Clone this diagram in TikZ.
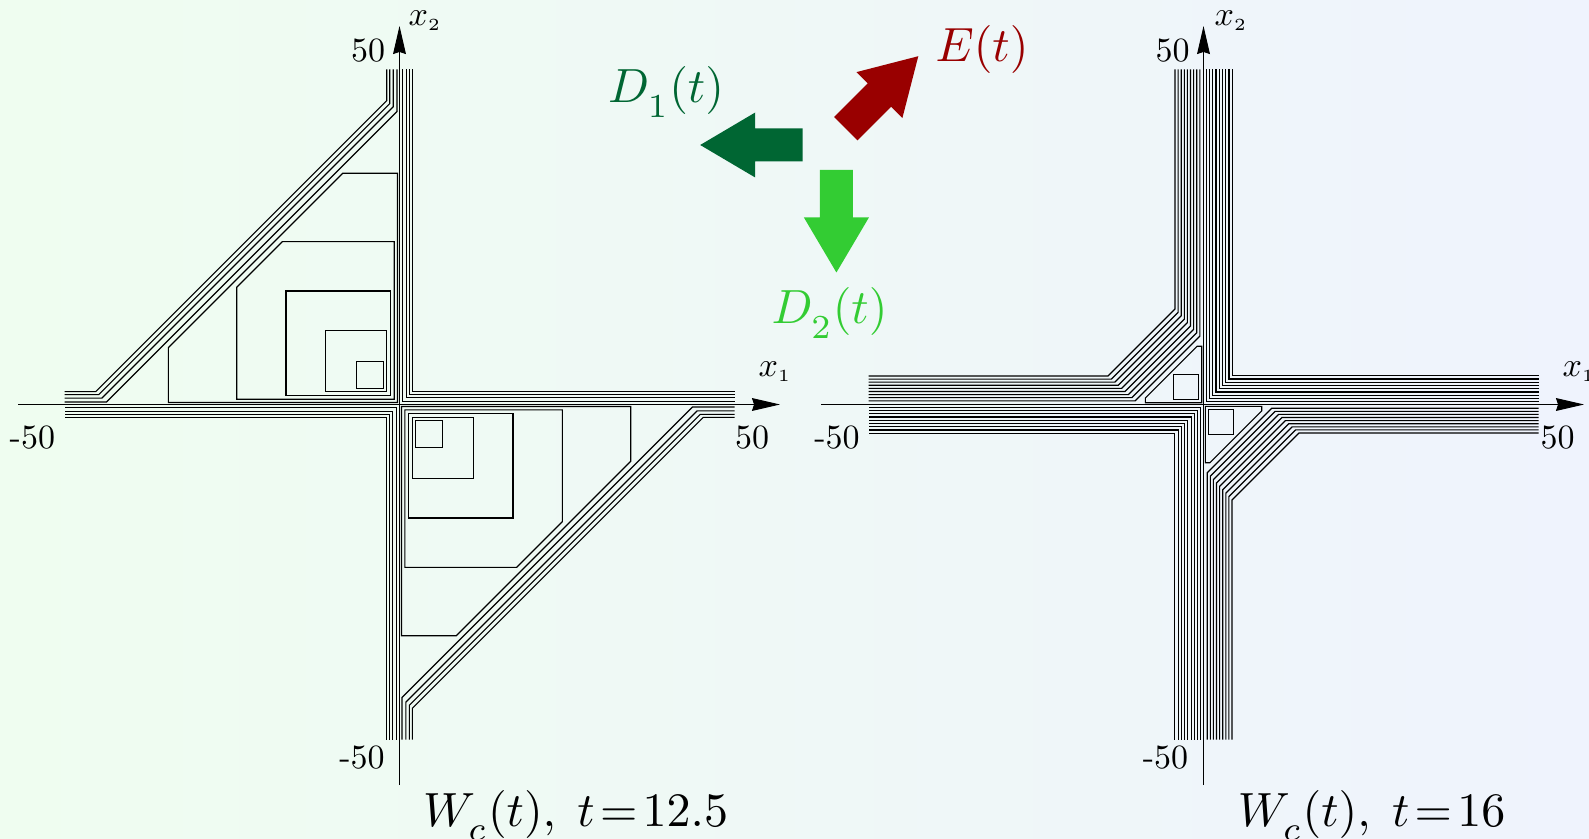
\documentclass[tikz,border=0pt]{standalone}
\usetikzlibrary{arrows.meta}
\definecolor{dOne}{RGB}{0,102,51}
\definecolor{dTwo}{RGB}{51,204,51}
\definecolor{eRed}{RGB}{153,0,0}
\definecolor{bgL}{RGB}{239,253,240}
\definecolor{bgR}{RGB}{239,243,253}
\newcommand\mylsub[1]{_{\lower1.6pt\hbox{$\scriptstyle #1$}}}
\begin{document}
\begin{tikzpicture}[x=0.5pt,y=-0.5pt,
  contour/.style={line width=0.55pt, black},
  axisline/.style={line width=0.5pt, -{Stealth[length=14pt,width=6.4pt,inset=1pt]}},
  ticklab/.style={scale=1.7, inner sep=0pt},
  axlab/.style={scale=1.7, inner sep=0pt},
  bigtxt/.style={scale=2.4, inner sep=0pt},
  bigarrow/.pic={\fill (0,-16.5) -- (47.5,-16.5) -- (47.5,-32.5) -- (102.5,0) -- (47.5,32.5) -- (47.5,16.5) -- (0,16.5) -- cycle;}
]
\useasboundingbox (0,0) rectangle (1589,839);
\shade[left color=bgL, right color=bgR] (0,0) rectangle (1589,839);

% ---------- left plot (t = 12.5) ----------
\begin{scope}[shift={(399.5,404.5)}, yscale=-1]
 \foreach \r in {0,180}{
  \begin{scope}[rotate=\r]
   \foreach \dd/\cc in {2.5/295.5,6.3/304,9.8/310.7,12.8/316.6}
     \draw[contour] (-335,\dd) -- ({\dd-\cc},\dd) -- (-\dd,{\cc-\dd}) -- (-\dd,335);
   \draw[contour] (-42.8,16.2) rectangle (-16.2,42.8);
   \draw[contour] (-74,12.8) rectangle (-12.8,74);
   \draw[contour] (-113.5,9.3) rectangle (-9.3,113.5);
   \foreach \aa/\bb/\cc in {5.3/162.8/280, 2/231.2/288}
     \draw[contour] (-\aa,\aa) -- (-\bb,\aa) -- (-\bb,{\cc-\bb}) -- ({\bb-\cc},\bb) -- (-\aa,\bb) -- cycle;
   \foreach \dd in {3.3,6.6,9.8,13}
     \draw[contour] (\dd,335) -- (\dd,\dd) -- (335,\dd);
  \end{scope}}
\end{scope}
\coordinate (L1a) at (18,404.5);
\coordinate (L1b) at (780,404.5);
\coordinate (L2a) at (399.5,785);
\coordinate (L2b) at (399.5,26);
\draw[axisline] (L1a) -- (L1b);
\draw[axisline] (L2a) -- (L2b);
\node[axlab] (Lx2) at (425,21) {$x_{\scriptscriptstyle 2}$};
\node[axlab] (Lx1) at (775,372) {$x_{\scriptscriptstyle 1}$};
\node[ticklab] (Lt50y) at (368,51) {50};
\node[ticklab] (Ltm50y) at (362,758) {-50};
\node[ticklab] (Ltm50x) at (32.4,438) {-50};
\node[ticklab] (Lt50x) at (752,438) {50};

% ---------- right plot (t = 16) ----------
\begin{scope}[shift={(1203.5,404.5)}, yscale=-1]
 \foreach \r in {0,180}{
  \begin{scope}[rotate=\r]
   \foreach \k in {0,...,8}{
     \pgfmathsetmacro{\dd}{3.7+3.1*\k}
     \pgfmathsetmacro{\cc}{72+6.5*\k}
     \draw[contour] (-335,\dd) -- ({\dd-\cc},\dd) -- (-\dd,{\cc-\dd}) -- (-\dd,335);
     \pgfmathsetmacro{\ee}{2.7+3.25*\k}
     \draw[contour] (\ee,335) -- (\ee,\ee) -- (335,\ee);
   }
   \draw[contour] (-30.2,5) rectangle (-5,30.2);
   \draw[contour] (-1.8,1.8) -- (-58.2,1.8) -- (-58.2,6.4) -- (-6.4,58.2) -- (-1.8,58.2) -- cycle;
  \end{scope}}
\end{scope}
\coordinate (R1a) at (821,404.5);
\coordinate (R1b) at (1584,404.5);
\coordinate (R2a) at (1203.5,785);
\coordinate (R2b) at (1203.5,26);
\draw[axisline] (R1a) -- (R1b);
\draw[axisline] (R2a) -- (R2b);
\node[axlab] (Rx2) at (1231,21) {$x_{\scriptscriptstyle 2}$};
\node[axlab] (Rx1) at (1579,372) {$x_{\scriptscriptstyle 1}$};
\node[ticklab] (Rt50y) at (1172.5,51) {50};
\node[ticklab] (Rtm50y) at (1165.5,758) {-50};
\node[ticklab] (Rtm50x) at (837,438) {-50};
\node[ticklab] (Rt50x) at (1557.6,438) {50};

% ---------- arrows and labels ----------
\pic[fill=dOne, rotate=180] at (802.7,145) {bigarrow};
\pic[fill=dTwo, rotate=-90] at (836.4,170) {bigarrow};
\pic[fill=eRed, rotate=45] at (845.8,128.7) {bigarrow};
\node[bigtxt, text=dOne, anchor=base] (D1) at (666,103) {$D\mylsub{1}(t)$};
\node[bigtxt, text=eRed, anchor=base] (E) at (982,61.5) {$E(t)$};
\node[bigtxt, text=dTwo, anchor=base] (D2) at (829.5,324) {$D\mylsub{2}(t)$};

% ---------- captions ----------
\node[bigtxt, anchor=base] (capL) at (575.6,826) {$W\mylsub{c}(t),\; t\!=\!12.5$};
\node[bigtxt, anchor=base] (capR) at (1371.6,826) {$W\mylsub{c}(t),\; t\!=\!16$};
\end{tikzpicture}
\end{document}
